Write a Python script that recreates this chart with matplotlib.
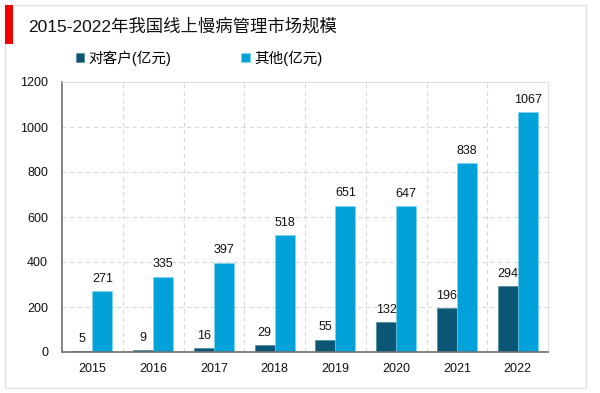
import numpy as np
import matplotlib.pyplot as plt
from matplotlib.patches import Rectangle

plt.rcParams['font.family'] = ['Liberation Sans', 'Noto Sans CJK SC']

# 数据
years = ['2015', '2016', '2017', '2018', '2019', '2020', '2021', '2022']
client = [5, 9, 16, 29, 55, 132, 196, 294]
other = [271, 335, 397, 518, 651, 647, 838, 1067]

title = '2015-2022年我国线上慢病管理市场规模'
label_client = '对客户(亿元)'
label_other = '其他(亿元)'

c_dark = '#0b5674'
c_light = '#00a2d9'

fig = plt.figure(figsize=(6.0, 3.93), dpi=100)
W, H = 600, 393

# 外框 + 红色标记
fig.patches.append(Rectangle((5 / W, 5 / H), 581 / W, 383 / H, transform=fig.transFigure,
                             fill=False, edgecolor='#e2e2e2', linewidth=1.0))
fig.patches.append(Rectangle((5 / W, 1 - 44 / H), 8 / W, 39 / H, transform=fig.transFigure,
                             facecolor='#ee0000', edgecolor='none'))
fig.text(28 / W, 1 - 26 / H, title, fontsize=12.5, va='center', ha='left', color='#111111')

ax = fig.add_axes([62 / W, 1 - 352 / H, 486 / W, 270 / H])

x = np.arange(len(years))
w = 0.33
b1 = ax.bar(x - w / 2, client, w, color=c_dark, edgecolor='#3f7f98', linewidth=0.4, label=label_client)
b2 = ax.bar(x + w / 2, other, w, color=c_light, edgecolor='#7fd6f2', linewidth=0.4, label=label_other)

for xi, v in zip(x, client):
    ax.text(xi - w / 2, v + 28, str(v), ha='center', va='bottom', fontsize=9, color='#111111')
for xi, v in zip(x, other):
    ax.text(xi + w / 2, v + 28, str(v), ha='center', va='bottom', fontsize=9, color='#111111')

ax.set_xlim(-0.5, len(years) - 0.5)
ax.set_ylim(0, 1200)
ax.set_yticks(range(0, 1201, 200))
ax.set_xticks(x)
ax.set_xticklabels(years)
ax.tick_params(axis='both', length=0, labelsize=9, colors='#111111')
ax.tick_params(axis='x', pad=8)
ax.tick_params(axis='y', pad=10)

# 网格
for yv in range(200, 1200, 200):
    ax.axhline(yv, color='#d9d9d9', linestyle=(0, (4, 3)), linewidth=0.8, zorder=0)
for xv in np.arange(0.5, len(years) - 0.5, 1):
    ax.axvline(xv, color='#d9d9d9', linestyle=(0, (4, 3)), linewidth=0.8, zorder=0)

ax.spines['left'].set_color('#707070')
ax.spines['left'].set_linewidth(1.2)
ax.spines['bottom'].set_color('#707070')
ax.spines['bottom'].set_linewidth(1.2)
ax.spines['top'].set_color('#e0e0e0')
ax.spines['right'].set_color('#e0e0e0')

fig.legend(handles=[b1, b2], loc='center', bbox_to_anchor=(199 / W, 1 - 58 / H),
           ncol=2, frameon=False, fontsize=10.5, handlelength=0.6, handleheight=0.6,
           columnspacing=4.75, handletextpad=0.3)

fig.savefig('out.png', dpi=100)
